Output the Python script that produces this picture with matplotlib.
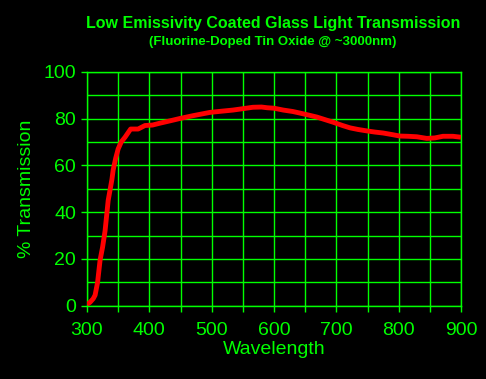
import matplotlib.pyplot as plt
import matplotlib

matplotlib.rcParams['font.family'] = "Liberation Sans"

green = '#00ff00'

wavelength = [300, 305, 310, 313, 317, 321, 325, 329, 334, 340, 342, 346, 350, 355, 361, 370,
              382, 393, 405, 417, 430, 449, 470, 497, 515, 534, 550, 566, 580, 589, 600,
              615, 630, 642, 655, 669, 682, 695, 710, 722, 735, 749, 762, 775, 790, 802,
              815, 829, 845, 858, 871, 887, 900]
transmission = [0.5, 1.5, 3, 4.5, 10, 19.5, 25, 32, 45, 54, 58, 63, 67, 70, 72, 75.5,
                75.5, 77, 77.2, 78, 78.8, 80, 81.2, 82.6, 83.1, 83.6, 84.2, 84.8, 84.9, 84.6, 84.4,
                83.6, 83, 82.3, 81.5, 80.6, 79.5, 78.4, 77, 76, 75.3, 74.7, 74.2, 73.8, 73.1, 72.5,
                72.4, 72.2, 71.5, 71.7, 72.4, 72.4, 72]

fig = plt.figure(figsize=(4.86, 3.79), dpi=100, facecolor='black')
ax = fig.add_axes([0.179, 0.1934, 0.7696, 0.6174], facecolor='black')

ax.plot(wavelength, transmission, color='#ff0000', lw=3.5, solid_capstyle='butt', zorder=3)

ax.set_xlim(300, 900)
ax.set_ylim(0, 100)
ax.set_xticks(range(300, 901, 100))
ax.set_xticks(range(350, 900, 100), minor=True)
ax.set_yticks(range(0, 101, 20))
ax.set_yticks(range(10, 100, 20), minor=True)
ax.grid(True, which='both', color=green, lw=1.0)
ax.tick_params(axis='x', which='both', colors=green, length=4, width=1, labelsize=14, pad=8)
ax.tick_params(axis='y', which='major', colors=green, length=4, width=1, labelsize=14, pad=4)
ax.tick_params(axis='y', which='minor', length=0)
for s in ax.spines.values():
    s.set_color(green)
    s.set_linewidth(1.0)

ax.set_xlabel('Wavelength', color=green, fontsize=14, labelpad=1)
ax.set_ylabel('% Transmission', color=green, fontsize=14, labelpad=6)

fig.text(0.562, 0.937, 'Low Emissivity Coated Glass Light Transmission', color=green,
         fontsize=11.5, fontweight='bold', ha='center', va='center')
fig.text(0.562, 0.889, '(Fluorine-Doped Tin Oxide @ ~3000nm)', color=green,
         fontsize=9.5, fontweight='bold', ha='center', va='center')

fig.savefig('out.png', dpi=100, facecolor='black')
